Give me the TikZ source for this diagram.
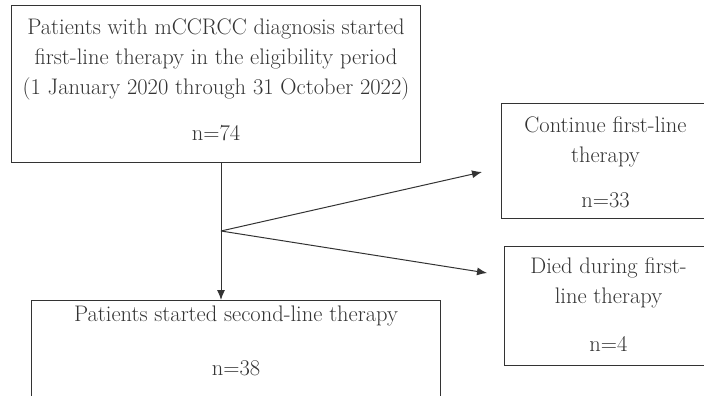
\documentclass[tikz,border=0pt]{standalone}
\usepackage{tikz}
\usetikzlibrary{arrows.meta}
\begin{document}
\begin{tikzpicture}[x=1pt,y=1pt,line width=1pt,black!80,
  box/.style={draw, anchor=north west, align=center, inner sep=0pt, font=\fontsize{22.5}{30}\selectfont},
  link/.style={-{Latex[length=10pt,width=8pt]}}]
\useasboundingbox (0,0) rectangle (704,-396);
\clip (0,0) rectangle (704,-396);
\node[box, minimum width=409pt, text height=135pt, text depth=22pt] (first) at (11,-5)
  {Patients with mCCRCC diagnosis started\\first-line therapy in the eligibility period\\(1 January 2020 through 31 October 2022)\\[16pt]n=74};
\node[box, minimum width=409pt, text height=75pt, text depth=40pt] (second) at (31,-300)
  {Patients started second-line therapy\\[24pt]n=38};
\node[box, minimum width=208pt, text height=104pt, text depth=11pt] (cont) at (501,-103)
  {Continue first-line\\therapy\\[15pt]n=33};
\node[box, minimum width=208pt, text height=105pt, text depth=14pt] (died) at (504,-246)
  {Died during first-\\line therapy\\[18pt]n=4};

\coordinate (split) at (221,-231);
\coordinate (toCont) at (482,-172);
\coordinate (toDied) at (487,-273);
\draw (first.south -| split) -- (split);
\draw[link] (split) -- (second.north -| split);
\draw[link] (split) -- (toCont);
\draw[link] (split) -- (toDied);
\end{tikzpicture}
\end{document}
